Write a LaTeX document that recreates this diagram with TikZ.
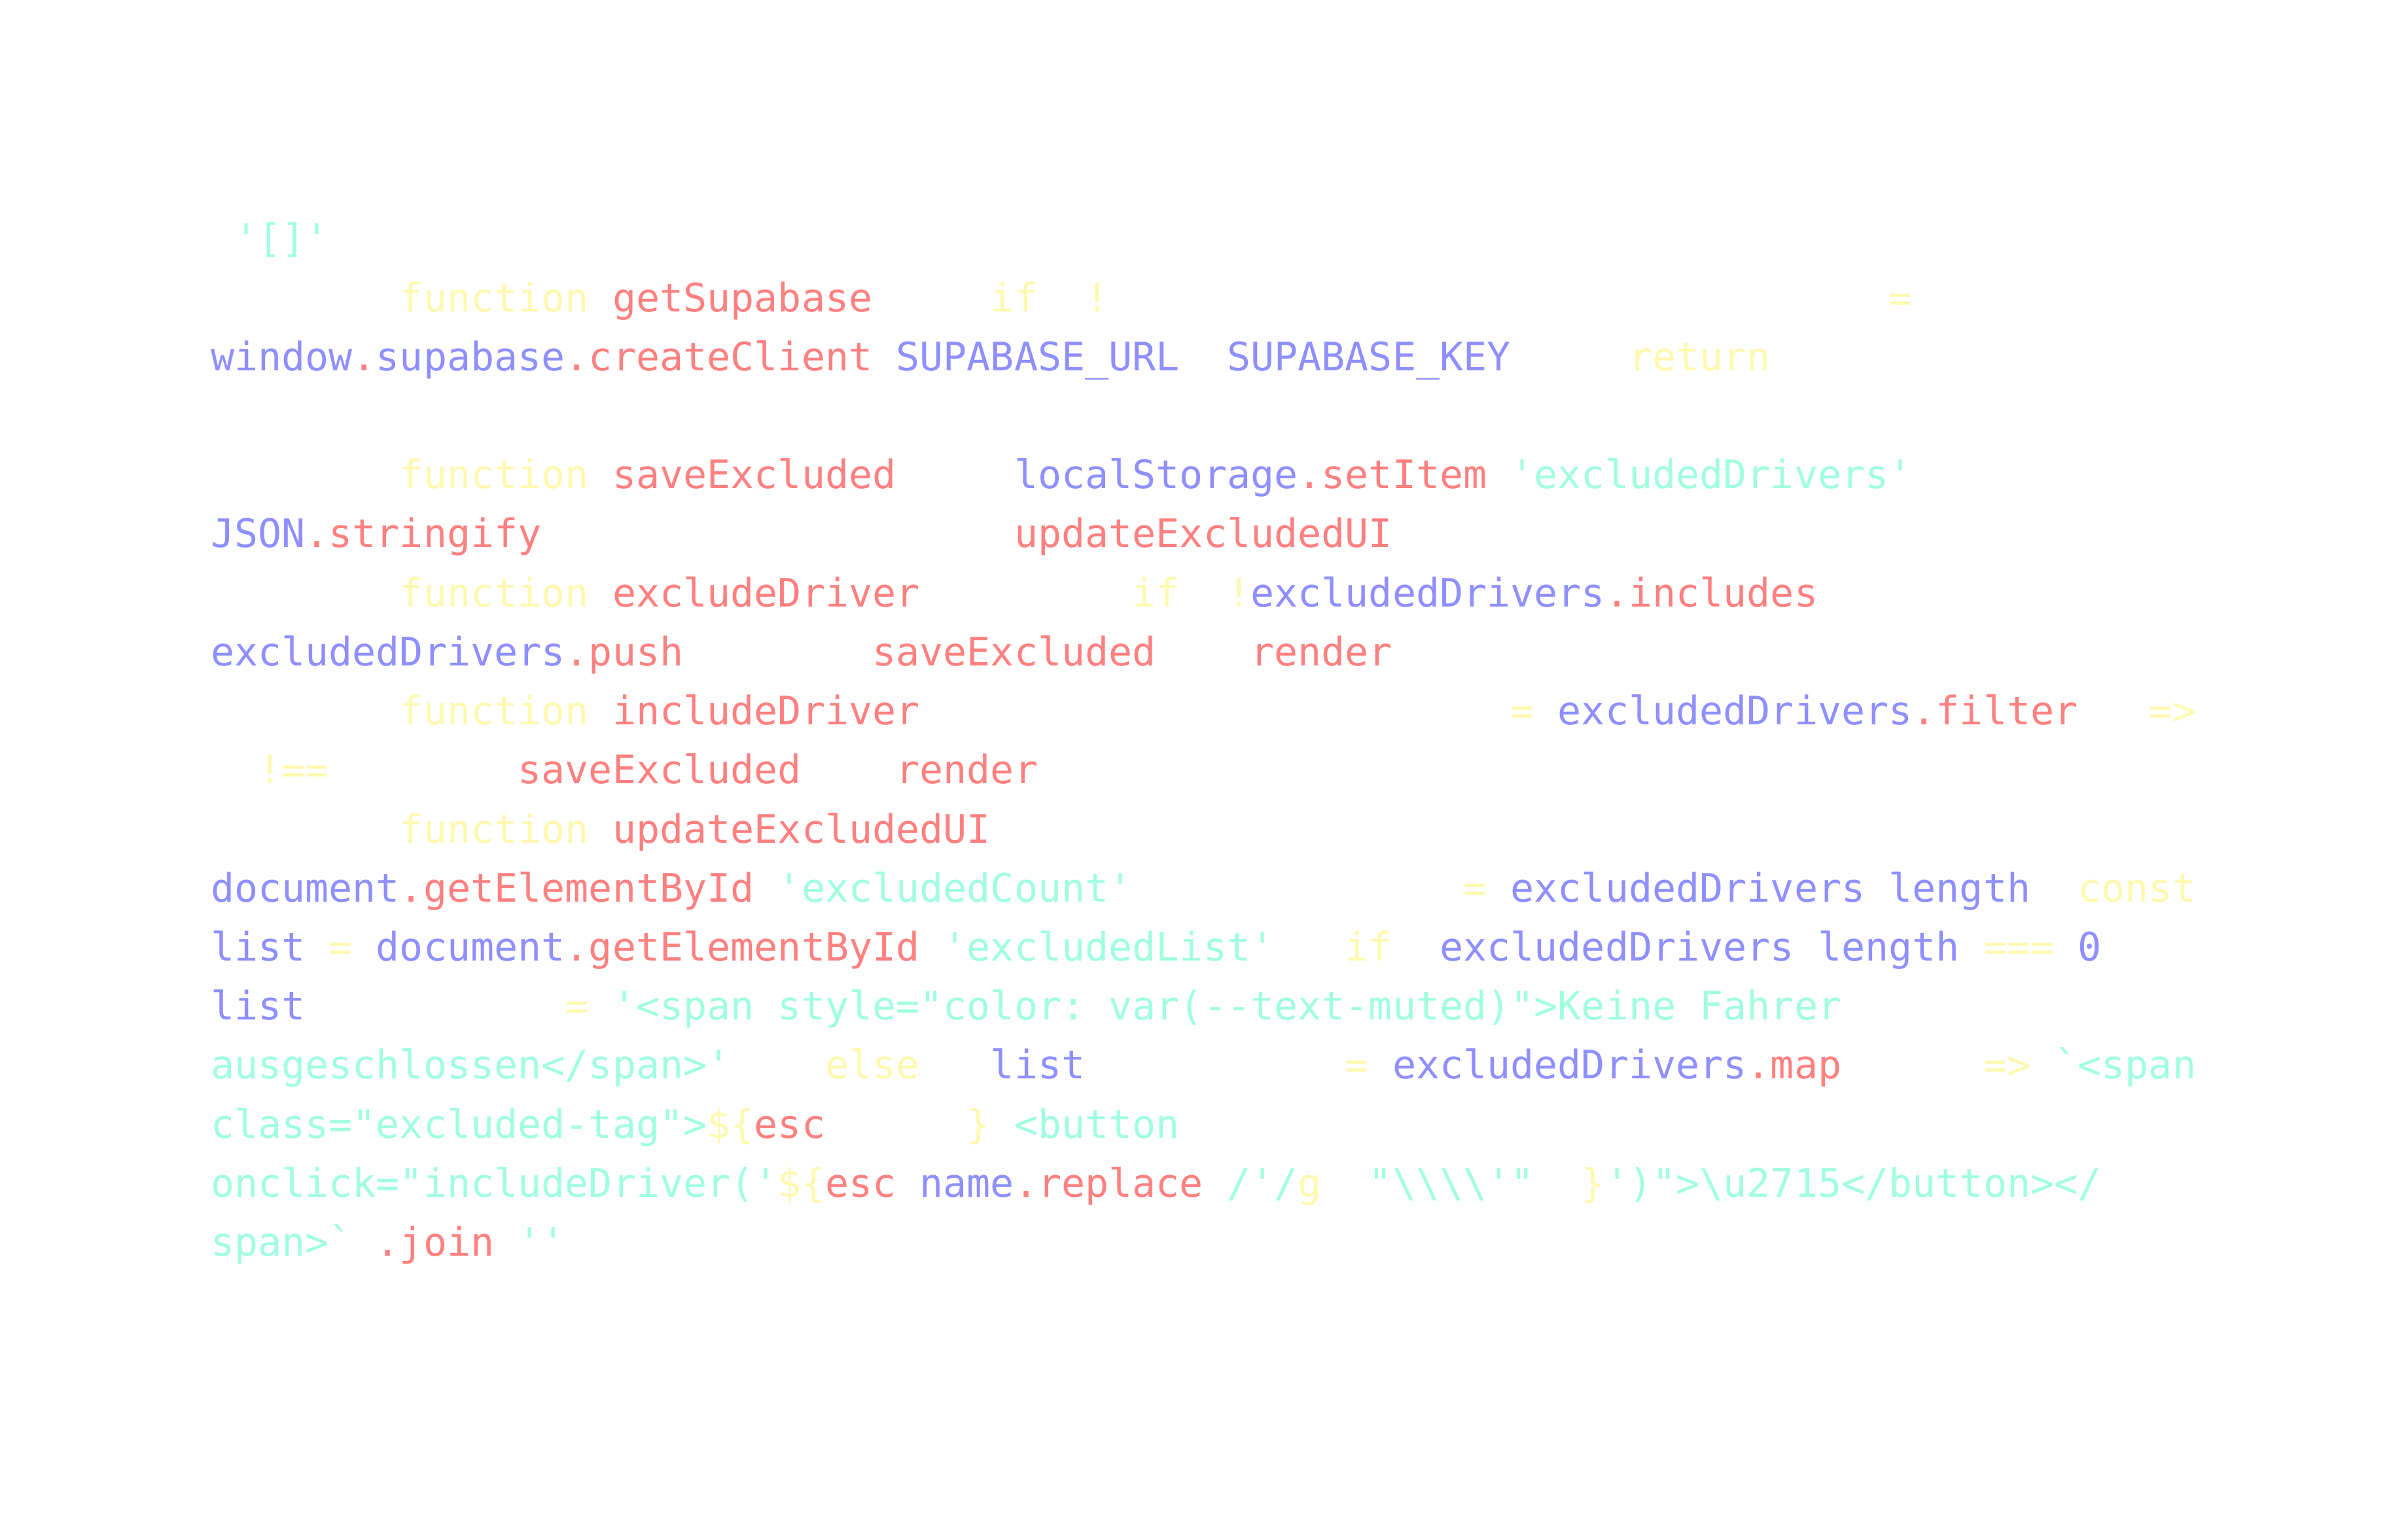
\documentclass[tikz,border=0pt]{standalone}
\usepackage{fontspec}
\setmonofont{DejaVu Sans Mono}
\definecolor{cblue}{RGB}{143,143,255}
\definecolor{cred}{RGB}{255,128,128}
\definecolor{cyel}{RGB}{255,249,176}
\definecolor{cgrn}{RGB}{160,255,222}
\newcommand\cdfont{\ttfamily\fontsize{15pt}{18pt}\selectfont}
\tikzset{
  tok/.style={anchor=base west, inner sep=0pt, outer sep=0pt, font=\cdfont},
  tb/.style={tok, text=cblue},
  tr/.style={tok, text=cred},
  ty/.style={tok, text=cyel},
  tg/.style={tok, text=cgrn}
}
\begin{document}
\begin{tikzpicture}[x=9.03pt, y=-22.55pt]
\useasboundingbox[fill=white] (-80.5pt,96.5pt) rectangle (839.5pt,-491.5pt);
% line 0
\node[tg] (l0a) at (1,0) {'[]'};
% line 1
\node[ty] (l1a) at (8,1) {function};
\node[tr] (l1b) at (17,1) {getSupabase};
\node[ty] (l1c) at (33,1) {if};
\node[ty] (l1d) at (37,1) {!};
\node[ty] (l1e) at (71,1) {=};
% line 2
\node[tb] (l2a) at (0,2) {window};
\node[tr] (l2b) at (6,2) {.};
\node[tb] (l2c) at (7,2) {supabase};
\node[tr] (l2d) at (15,2) {.createClient};
\node[tb] (l2e) at (29,2) {SUPABASE\_URL};
\node[tb] (l2f) at (43,2) {SUPABASE\_KEY};
\node[ty] (l2g) at (60,2) {return};
% line 4
\node[ty] (l4a) at (8,4) {function};
\node[tr] (l4b) at (17,4) {saveExcluded};
\node[tb] (l4c) at (34,4) {localStorage};
\node[tr] (l4d) at (46,4) {.setItem};
\node[tg] (l4e) at (55,4) {'excludedDrivers'};
% line 5
\node[tb] (l5a) at (0,5) {JSON};
\node[tr] (l5b) at (4,5) {.stringify};
\node[tr] (l5c) at (34,5) {updateExcludedUI};
% line 6
\node[ty] (l6a) at (8,6) {function};
\node[tr] (l6b) at (17,6) {excludeDriver};
\node[ty] (l6c) at (39,6) {if};
\node[ty] (l6d) at (43,6) {!};
\node[tb] (l6e) at (44,6) {excludedDrivers};
\node[tr] (l6f) at (59,6) {.includes};
% line 7
\node[tb] (l7a) at (0,7) {excludedDrivers};
\node[tr] (l7b) at (15,7) {.push};
\node[tr] (l7c) at (28,7) {saveExcluded};
\node[tr] (l7d) at (44,7) {render};
% line 8
\node[ty] (l8a) at (8,8) {function};
\node[tr] (l8b) at (17,8) {includeDriver};
\node[ty] (l8c) at (55,8) {=};
\node[tb] (l8d) at (57,8) {excludedDrivers};
\node[tr] (l8e) at (72,8) {.filter};
\node[ty] (l8f) at (82,8) {=>};
% line 9
\node[ty] (l9a) at (2,9) {!==};
\node[tr] (l9b) at (13,9) {saveExcluded};
\node[tr] (l9c) at (29,9) {render};
% line 10
\node[ty] (l10a) at (8,10) {function};
\node[tr] (l10b) at (17,10) {updateExcludedUI};
% line 11
\node[tb] (l11a) at (0,11) {document};
\node[tr] (l11b) at (8,11) {.getElementById};
\node[tg] (l11c) at (24,11) {'excludedCount'};
\node[ty] (l11d) at (53,11) {=};
\node[tb] (l11e) at (55,11) {excludedDrivers};
\node[tb] (l11f) at (71,11) {length};
\node[ty] (l11g) at (79,11) {const};
% line 12
\node[tb] (l12a) at (0,12) {list};
\node[ty] (l12b) at (5,12) {=};
\node[tb] (l12c) at (7,12) {document};
\node[tr] (l12d) at (15,12) {.getElementById};
\node[tg] (l12e) at (31,12) {'excludedList'};
\node[ty] (l12f) at (48,12) {if};
\node[tb] (l12g) at (52,12) {excludedDrivers};
\node[tb] (l12h) at (68,12) {length};
\node[ty] (l12i) at (75,12) {===};
\node[tb] (l12j) at (79,12) {0};
% line 13
\node[tb] (l13a) at (0,13) {list};
\node[ty] (l13b) at (15,13) {=};
\node[tg] (l13c) at (17,13) {'<span style="color: var(--text-muted)">Keine Fahrer};
% line 14
\node[tg] (l14a) at (0,14) {ausgeschlossen</span>'};
\node[ty] (l14b) at (26,14) {else};
\node[tb] (l14c) at (33,14) {list};
\node[ty] (l14d) at (48,14) {=};
\node[tb] (l14e) at (50,14) {excludedDrivers};
\node[tr] (l14f) at (65,14) {.map};
\node[ty] (l14g) at (75,14) {=>};
\node[tg] (l14h) at (78,14) {`<span};
% line 15
\node[tg] (l15a) at (0,15) {class="excluded-tag">};
\node[ty] (l15b) at (21,15) {\$\{};
\node[tr] (l15c) at (23,15) {esc};
\node[ty] (l15d) at (32,15) {\}};
\node[tg] (l15e) at (34,15) {<button};
% line 16
\node[tg] (l16a) at (0,16) {onclick="includeDriver('};
\node[ty] (l16b) at (24,16) {\$\{};
\node[tr] (l16c) at (26,16) {esc};
\node[tb] (l16d) at (30,16) {name};
\node[tr] (l16e) at (34,16) {.replace};
\node[tg] (l16f) at (43,16) {/'/};
\node[ty] (l16g) at (46,16) {g};
\node[tg] (l16h) at (49,16) {"\textbackslash\textbackslash\textbackslash\textbackslash'"};
\node[ty] (l16i) at (58,16) {\}};
\node[tg] (l16j) at (59,16) {')">\textbackslash u2715</button></};
% line 17
\node[tg] (l17a) at (0,17) {span>`};
\node[tr] (l17b) at (7,17) {.join};
\node[tg] (l17c) at (13,17) {''};
\end{tikzpicture}
\end{document}
